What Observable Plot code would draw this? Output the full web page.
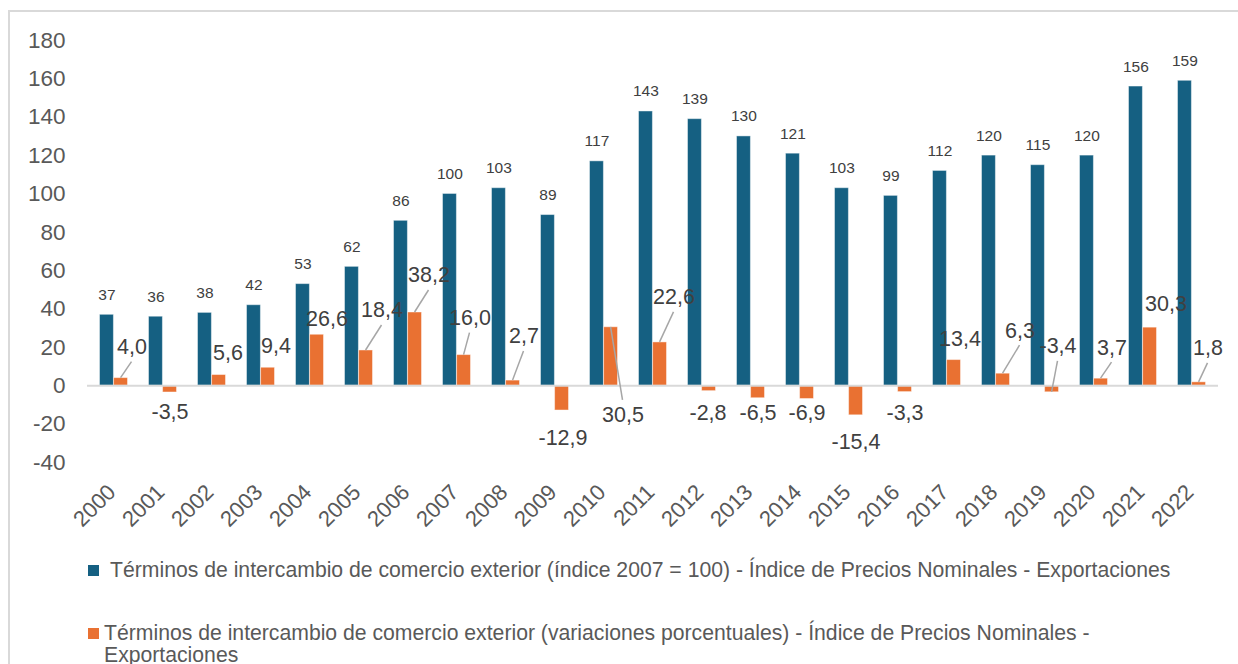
<!DOCTYPE html>
<html><head><meta charset="utf-8">
<script src="https://cdn.jsdelivr.net/npm/d3@7"></script>
<script src="https://cdn.jsdelivr.net/npm/@observablehq/plot@0.6"></script>
<style>
body{margin:0;background:#fff;font-family:"Liberation Sans",Arial,sans-serif;overflow:hidden;}
#frame{position:absolute;left:8px;top:10px;width:1300px;height:700px;border:2px solid #d9d9d9;box-sizing:border-box;}
#chart{position:absolute;left:0;top:0;}
.leg{position:absolute;color:#595959;font-size:21.2px;line-height:22px;white-space:normal;}
.sw{position:absolute;width:11px;height:11px;}
</style></head><body>
<div id="frame"></div>
<div id="chart"></div>
<div id="legend"></div>
<script>
const years = ["2000","2001","2002","2003","2004","2005","2006","2007","2008","2009","2010","2011","2012","2013","2014","2015","2016","2017","2018","2019","2020","2021","2022"];
const indexValues = [37,36,38,42,53,62,86,100,103,89,117,143,139,130,121,103,99,112,120,115,120,156,159];
const pctValues = [4.0,-3.5,5.6,9.4,26.6,18.4,38.2,16.0,2.7,-12.9,30.5,22.6,-2.8,-6.5,-6.9,-15.4,-3.3,13.4,6.3,-3.4,3.7,30.3,1.8];
// manual label offsets (pixels, relative to the year's band centre and the bar end)
const pctLabelDx = [18,7,16,15,17,23,21,13,18,8,19,21,6,7,7,7,7,13,24,13,18,23,16];
const pctLabelDy = [-31,20,-22,-22,-16,-40,-37,-37,-44,28,88,-45,22,15,14,27,21,-21,-43,-46,-31,-24,-34];
const yTicks = [-40,-20,0,20,40,60,80,100,120,140,160,180];
const seriesNames = [
  "Términos de intercambio de comercio exterior (índice 2007 = 100) - Índice de Precios Nominales - Exportaciones",
  "Términos de intercambio de comercio exterior (variaciones porcentuales) - Índice de Precios Nominales - Exportaciones"
];
const colors = ["#156082", "#E97132"];

const rows = years.map((y, i) => ({year: y, index: indexValues[i], pct: pctValues[i], i}));
const fmt = v => v.toFixed(1).replace(".", ",");
const half = 7.08;

function leaders(index, scales) {
  const g = d3.create("svg:g").attr("stroke", "#a6a6a6").attr("stroke-width", 1.5).attr("fill", "none");
  const bw = scales.x.bandwidth ? scales.x.bandwidth() : 0;
  rows.forEach((d, i) => {
    const dy = pctLabelDy[i];
    if (Math.abs(dy) < 30) return;
    const cx = scales.x(d.year) + bw / 2;
    const y0 = scales.y(d.pct);
    const x1 = cx + half, y1 = y0;
    const x2 = cx + pctLabelDx[i], y2 = y0 + dy + (dy > 0 ? -15 : 15);
    g.append("line").attr("x1", x1).attr("y1", y1).attr("x2", x2).attr("y2", y2);
  });
  return g.node();
}

const pctLabelMarks = rows.map((d, i) => Plot.text([d], {
  x: "year", y: "pct", text: r => fmt(r.pct),
  dx: pctLabelDx[i], dy: pctLabelDy[i], fontSize: 21.5, fill: "#404040"
}));

const chart = Plot.plot({
  width: 1238, height: 520,
  marginLeft: 87, marginRight: 20, marginTop: 40, marginBottom: 58,
  style: {fontFamily: "'Liberation Sans', Arial, sans-serif", background: "transparent", overflow: "visible"},
  x: {type: "band", domain: years, padding: 0, axis: null},
  y: {domain: [-40, 180], ticks: yTicks, label: null},
  marks: [
    Plot.axisY(yTicks, {tickSize: 0, tickPadding: 22, fontSize: 22.5, fill: "#595959", label: null, tickFormat: d => String(d)}),
    Plot.barY(rows, {x: "year", y: "index", fill: colors[0], insetLeft: 10.5, insetRight: 24.6, stroke: "#ffffff", strokeOpacity: 0.45, strokeWidth: 1}),
    Plot.barY(rows, {x: "year", y: "pct", fill: colors[1], insetLeft: 24.6, insetRight: 10.5, stroke: "#ffffff", strokeOpacity: 0.45, strokeWidth: 1}),
    Plot.ruleY([0], {stroke: "#d9d9d9", strokeWidth: 2}),
    leaders,
    Plot.text(rows, {x: "year", y: "index", text: d => String(d.index), dx: -half, dy: -20, fontSize: 15.5, fill: "#404040"}),
    ...pctLabelMarks,
    Plot.text(years, {x: d => d, text: d => d, frameAnchor: "bottom", dx: -2, dy: 26, rotate: -45, textAnchor: "end", lineAnchor: "middle", fontSize: 22, fill: "#595959"})
  ]
});
document.getElementById("chart").appendChild(chart);

const legend = document.getElementById("legend");
const items = [
  {sw: [88, 565], text: [110, 559], width: 1120},
  {sw: [88, 628], text: [104, 622], width: 1050}
];
items.forEach((it, k) => {
  const s = document.createElement("div");
  s.className = "sw"; s.style.left = it.sw[0] + "px"; s.style.top = it.sw[1] + "px"; s.style.background = colors[k];
  legend.appendChild(s);
  const t = document.createElement("div");
  t.className = "leg"; t.style.left = it.text[0] + "px"; t.style.top = it.text[1] + "px"; t.style.width = it.width + "px";
  t.textContent = seriesNames[k];
  legend.appendChild(t);
});
</script>
</body></html>
